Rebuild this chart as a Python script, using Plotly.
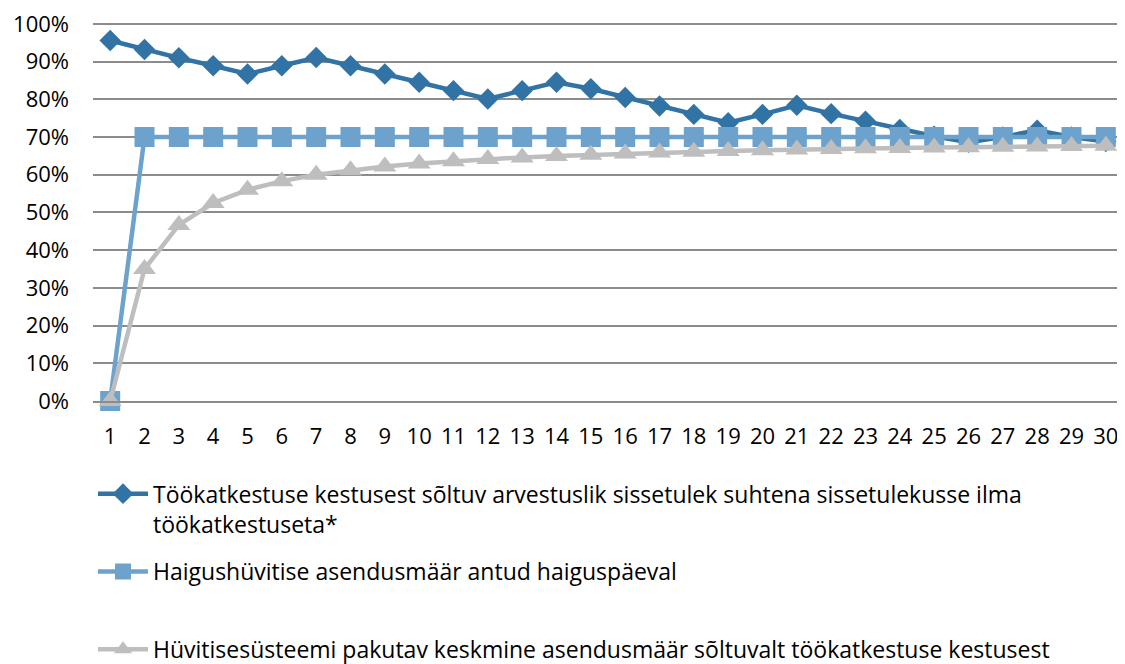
import plotly.graph_objects as go

days = list(range(1, 31))

income_ratio = [95.6, 93.2, 91.0, 88.9, 86.7, 88.9, 91.1, 88.9, 86.7, 84.5,
                82.3, 80.1, 82.3, 84.5, 82.8, 80.5, 78.2, 76.0, 73.8, 76.0,
                78.4, 76.2, 74.2, 72.0, 70.2, 68.6, 70.0, 71.8, 70.0, 68.8]

sick_rate = [0] + [70.0] * 29

avg_rate = [0, 35.0, 46.7, 52.5, 56.0, 58.3, 60.0, 61.2, 62.2, 63.0,
            63.6, 64.2, 64.6, 65.0, 65.3, 65.6, 65.9, 66.1, 66.3, 66.5,
            66.7, 66.8, 67.0, 67.1, 67.2, 67.3, 67.4, 67.5, 67.6, 67.7]

names = [
    "Töökatkestuse kestusest sõltuv arvestuslik sissetulek suhtena sissetulekusse ilma<br>töökatkestuseta*",
    "Haigushüvitise asendusmäär antud haiguspäeval<br> ",
    "Hüvitisesüsteemi pakutav keskmine asendusmäär sõltuvalt töökatkestuse kestusest<br> ",
]

y_ticks = list(range(0, 101, 10))

FONT = "Open Sans"
FS = 22
LFS = 23
C_DARK = "#3173A5"
C_LIGHT = "#6DA2CC"
C_GRAY = "#BEBEBE"

fig = go.Figure()
fig.add_trace(go.Scatter(x=days, y=income_ratio, name=names[0], mode="lines+markers",
                         line=dict(color=C_DARK, width=4.5),
                         marker=dict(symbol="diamond", size=16.5, color=C_DARK),
                         cliponaxis=False, legendgroup="a"))
fig.add_trace(go.Scatter(x=days, y=sick_rate, name=names[1], mode="lines+markers",
                         line=dict(color=C_LIGHT, width=4.5),
                         marker=dict(symbol="square", size=20, color=C_LIGHT),
                         cliponaxis=False, legendgroup="b"))
fig.add_trace(go.Scatter(x=days, y=avg_rate, name=names[2], mode="lines+markers",
                         line=dict(color=C_GRAY, width=4.5),
                         marker=dict(symbol="triangle-up", size=20, color=C_GRAY),
                         cliponaxis=False, legendgroup="c"))

fig.update_layout(
    width=1117, height=656,
    margin=dict(l=85, r=2, t=14, b=263, autoexpand=False),
    paper_bgcolor="white", plot_bgcolor="white",
    font=dict(family=FONT, size=FS, color="#000000"),
    showlegend=True,
    legend=dict(orientation="v", x=0.0, xanchor="left", y=-0.188, yanchor="top",
                valign="top", tracegroupgap=15, itemwidth=50,
                font=dict(family=FONT, size=LFS, color="#000000"),
                bgcolor="rgba(0,0,0,0)"),
)
fig.update_xaxes(range=[0.5, 30.5], tickvals=days, ticktext=[str(d) for d in days],
                 showgrid=False, showline=True, linecolor="#8C8C8C", linewidth=1.5,
                 ticks="", ticklabelstandoff=15, zeroline=False,
                 ticklabeloverflow="allow",
                 tickfont=dict(family=FONT, size=FS, color="#000000"))
fig.update_yaxes(range=[0, 100.5], tickvals=y_ticks, ticktext=[f"{v}%" for v in y_ticks],
                 showgrid=True, gridcolor="#8C8C8C", gridwidth=1.5, zeroline=False,
                 showline=False, ticks="", ticklabelstandoff=23,
                 ticklabeloverflow="allow",
                 tickfont=dict(family=FONT, size=FS, color="#000000"))

fig.write_html("out.html")
